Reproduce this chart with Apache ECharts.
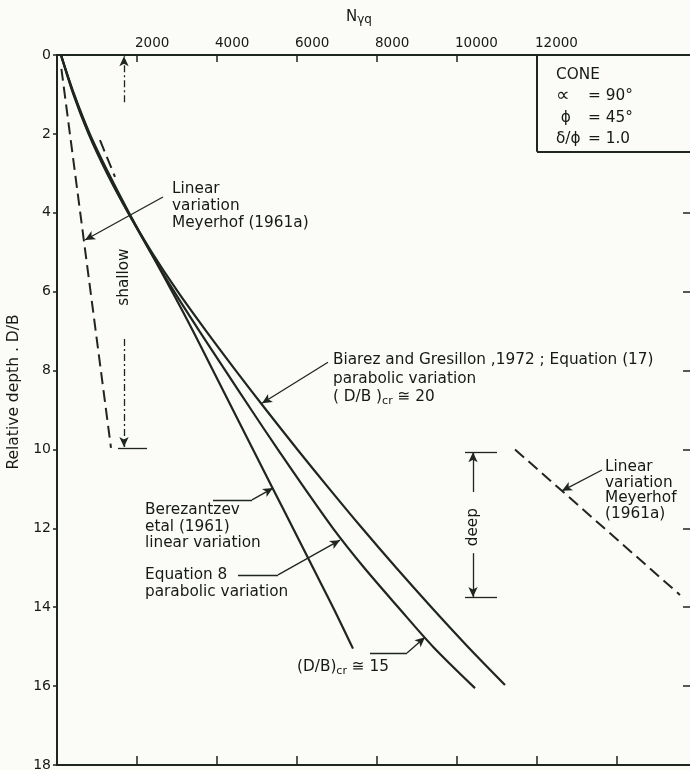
<!DOCTYPE html>
<html><head><meta charset="utf-8">
<script src="https://cdn.jsdelivr.net/npm/echarts@6/dist/echarts.min.js"></script>
<style>html,body{margin:0;padding:0;background:#fbfbf8;}#c{width:690px;height:770px;}</style>
</head><body><div id="c"></div>
<script>
// ---- data ----
const xTickLabels = [2000, 4000, 6000, 8000, 10000, 12000];
const depthTicks = [0, 2, 4, 6, 8, 10, 12, 14, 16, 18];
const rightDepthTicks = [4, 6, 8, 10, 12, 14, 16];

const berezantzevDepth = [0, 1, 2, 3, 4, 5, 6, 7, 8, 9, 10, 11, 12, 13, 14, 15.05];
const berezantzevN     = [100, 430, 820, 1290, 1800, 2340, 2880, 3400, 3900, 4400, 4900, 5400, 5900, 6400, 6900, 7400];

const equation8Depth = [0, 1, 2, 3, 4, 5, 6, 7, 8, 9, 10, 11, 12, 13, 14, 15, 16.05];
const equation8N     = [100, 420, 800, 1260, 1780, 2340, 2930, 3560, 4210, 4860, 5520, 6200, 6900, 7680, 8530, 9400, 10450];

const biarezDepth = [0, 1, 2, 3, 4, 5, 6, 7, 8, 9, 10, 11, 12, 13, 14, 15, 15.97];
const biarezN     = [100, 410, 790, 1250, 1780, 2370, 3020, 3730, 4470, 5230, 6010, 6810, 7630, 8480, 9360, 10270, 11200];

const meyerhofShallowDepth = [0.35, 9.96];
const meyerhofShallowN     = [110, 1350];

const meyerhofDeepDepth = [10.0, 13.69];
const meyerhofDeepN     = [11450, 15575];

const shortDashDepth = [2.16, 3.09];
const shortDashN     = [1075, 1450];

// ---- styling / annotation layout ----
const INK = '#1f251f';
const TXT = '#151a15';
const FONT = 'DejaVu Sans';
const FS = 15.3;
const pairs = (xs, ys) => xs.map((x, i) => [x, ys[i]]);
const seg = (a, b) => [{coord: a}, {coord: b}];

const arrowLeaders = [
  seg([2650, 3.6], [700, 4.69]),
  seg([6775, 7.79], [5125, 8.83]),
  seg([4875, 11.28], [5400, 10.98]),
  seg([5525, 13.18], [7075, 12.3]),
  seg([8750, 15.16], [9200, 14.76]),
  seg([13625, 10.52], [12625, 11.05]),
  seg([10400, 11.08], [10400, 10.07]),
  seg([10400, 12.63], [10400, 13.74])
];
const plainLeaders = [
  seg([3900, 11.28], [4875, 11.28]),
  seg([4525, 13.18], [5525, 13.18]),
  seg([7825, 15.16], [8750, 15.16]),
  seg([10200, 10.07], [11000, 10.07]),
  seg([10200, 13.74], [11000, 13.74]),
  seg([1525, 9.97], [2250, 9.97])
];
const dashDotArrows = [
  seg([1675, 1.2], [1675, 0.03]),
  seg([1675, 7.2], [1675, 9.94])
];
const boxLines = [
  seg([12000, 0], [12000, 2.45]),
  seg([12000, 2.45], [16000, 2.45])
];

const tStyle = {fontFamily: FONT, fontSize: FS, color: TXT, opacity: 1};
const sub = {fontFamily: FONT, fontSize: 11, color: TXT, opacity: 1, verticalAlign: 'bottom'};
function note(pos, text, extra) {
  return {value: pos, label: Object.assign({show: true, formatter: text, position: [0, 0],
    align: 'left', verticalAlign: 'top', fontFamily: FONT, fontSize: FS, color: TXT, opacity: 1}, extra || {})};
}
const notes = [
  note([2875, 3.18], 'Linear\nvariation\nMeyerhof (1961a)', {lineHeight: 17}),
  note([6900, 7.5], '{t|Biarez and Gresillon ,1972 ; Equation (17)}\n{t|parabolic variation}\n{t|( D/B )}{s|cr}{t| ≅ 20}',
    {lineHeight: 18.5, rich: {t: Object.assign({lineHeight: 18.5}, tStyle), s: Object.assign({lineHeight: 18.5}, sub)}}),
  note([13700, 10.25], 'Linear\nvariation\nMeyerhof\n(1961a)', {lineHeight: 15.5}),
  note([2200, 11.33], 'Berezantzev\netal (1961)\nlinear variation', {lineHeight: 16.5}),
  note([2200, 12.97], 'Equation 8\nparabolic variation', {lineHeight: 17}),
  note([6000, 15.52], '{t|(D/B)}{s|cr}{t| ≅ 15}',
    {verticalAlign: 'middle', rich: {t: Object.assign({lineHeight: 18}, tStyle), s: Object.assign({lineHeight: 18}, sub)}}),
  note([1675, 5.63], 'shallow', {rotate: 90, align: 'center', verticalAlign: 'middle'}),
  note([10400, 11.97], 'deep', {rotate: 90, align: 'center', verticalAlign: 'middle'}),
  note([12475, 0.23], '{c|CONE}\n{g|∝}{b|= 90°}\n{a| ϕ}{b|= 45°}\n{a|δ/ϕ}{b|= 1.0}',
    {rich: {c: Object.assign({lineHeight: 21.5}, tStyle),
            g: Object.assign({}, tStyle, {lineHeight: 21.5, width: 32, fontSize: 19}),
            a: Object.assign({lineHeight: 21.5, width: 32}, tStyle),
            b: Object.assign({lineHeight: 21.5}, tStyle)}})
];

const curve = (name, xs, ys) => ({
  name, type: 'line', data: pairs(xs, ys), showSymbol: false, smooth: 0.3, silent: true,
  lineStyle: {color: INK, width: 2.2}, animation: false
});
const dashed = (name, xs, ys) => ({
  name, type: 'line', data: pairs(xs, ys), showSymbol: false, silent: true,
  lineStyle: {color: INK, width: 2, type: [12, 6]}, animation: false
});
const mlSeries = (name, data, symbol, lineStyle, axes) => Object.assign({
  name, type: 'line', data: [], silent: true, animation: false,
  markLine: {silent: true, animation: false, symbol: symbol, symbolSize: [7, 10],
    label: {show: false}, lineStyle: Object.assign({color: INK, width: 1.3, type: 'solid'}, lineStyle),
    itemStyle: {color: INK}, emphasis: {disabled: true}, data: data}
}, axes || {});

const axisLineStyle = {show: true, onZero: false, lineStyle: {color: INK, width: 2}};

const chart = echarts.init(document.getElementById('c'), null, {renderer: 'canvas'});
chart.setOption({
  backgroundColor: '#fbfbf8',
  animation: false,
  grid: {left: 57, top: 55, width: 640, height: 710, containLabel: false, outerBoundsMode: 'none'},
  xAxis: [
    {type: 'value', position: 'top', min: 0, max: 16000, interval: 2000,
     name: '{n|N}{s|γq}', nameLocation: 'middle', nameGap: 29,
     nameTextStyle: {padding: [0, 36, 0, 0], rich: {n: {fontFamily: FONT, fontSize: 15, color: TXT},
       s: {fontFamily: FONT, fontSize: 12, color: TXT, padding: [5, 0, 0, 0]}}},
     axisLine: axisLineStyle,
     axisTick: {show: true, inside: true, length: 7, customValues: xTickLabels, lineStyle: {color: INK, width: 1.5}},
     axisLabel: {customValues: xTickLabels, formatter: v => String(v), align: 'left', margin: 5,
       fontFamily: FONT, fontSize: 13.5, color: TXT, padding: [0, 0, 0, -2]},
     splitLine: {show: false}},
    {type: 'value', position: 'bottom', min: 0, max: 16000, interval: 2000,
     axisLine: axisLineStyle,
     axisTick: {show: true, inside: true, length: 9, lineStyle: {color: INK, width: 1.5}},
     axisLabel: {show: false}, splitLine: {show: false}}
  ],
  yAxis: [
    {type: 'value', inverse: true, position: 'left', min: 0, max: 18, interval: 2,
     name: 'Relative depth . D/B', nameLocation: 'middle', nameGap: 29, nameRotate: 90,
     nameTextStyle: {fontFamily: FONT, fontSize: 15.5, color: TXT, padding: [0, 0, 0, 36]},
     axisLine: axisLineStyle,
     axisTick: {show: true, inside: false, length: 4, lineStyle: {color: INK, width: 1.5}},
     axisLabel: {formatter: v => depthTicks.includes(v) ? String(v) : '', margin: 6,
       fontFamily: FONT, fontSize: 14, color: TXT},
     splitLine: {show: false}},
    {type: 'value', inverse: true, position: 'right', min: 0, max: 18, interval: 2,
     axisLine: axisLineStyle,
     axisTick: {show: true, inside: true, length: 14, customValues: rightDepthTicks, lineStyle: {color: INK, width: 1.5}},
     axisLabel: {show: false}, splitLine: {show: false}}
  ],
  series: [
    curve('Berezantzev et al (1961)', berezantzevN, berezantzevDepth),
    curve('Equation 8', equation8N, equation8Depth),
    curve('Biarez and Gresillon 1972', biarezN, biarezDepth),
    dashed('Meyerhof shallow', meyerhofShallowN, meyerhofShallowDepth),
    dashed('Meyerhof deep', meyerhofDeepN, meyerhofDeepDepth),
    dashed('short dash', shortDashN, shortDashDepth),
    mlSeries('arrows', arrowLeaders, ['none', 'arrow'], {}),
    mlSeries('plain', plainLeaders, ['none', 'none'], {}),
    mlSeries('dashdot', dashDotArrows, ['none', 'arrow'], {type: [7, 3, 2, 3]}),
    mlSeries('box', boxLines, ['none', 'none'], {width: 2}, {xAxisIndex: 1, yAxisIndex: 1}),
    {name: 'notes', type: 'scatter', symbolSize: 0, silent: true, animation: false,
     data: notes, itemStyle: {color: INK, opacity: 1}}
  ]
});
</script></body></html>
